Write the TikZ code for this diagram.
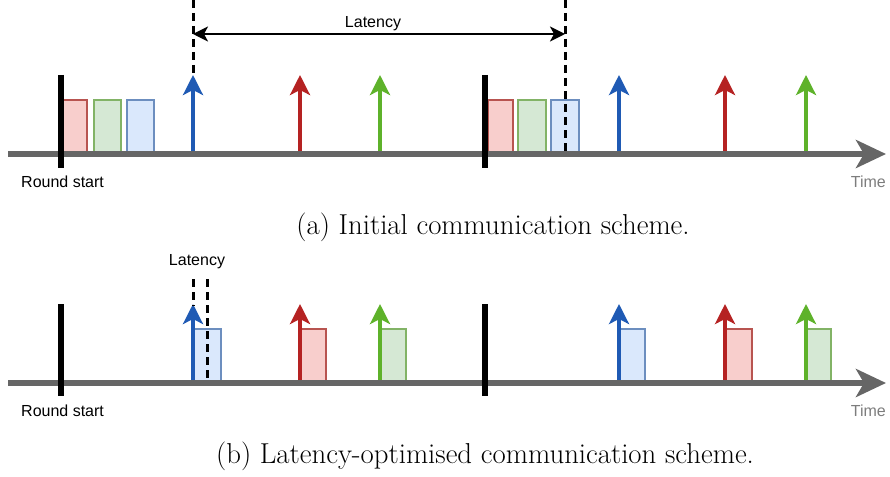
\documentclass[tikz,border=0pt]{standalone}
\usepackage{fontspec}
\newfontfamily\drawsans{Liberation Sans}
\usetikzlibrary{arrows.meta}
\definecolor{axisgray}{HTML}{666666}
\definecolor{rfill}{HTML}{F8CECC}\definecolor{rdraw}{HTML}{B85450}
\definecolor{gfill}{HTML}{D5E8D4}\definecolor{gdraw}{HTML}{82B366}
\definecolor{bfill}{HTML}{DAE8FC}\definecolor{bdraw}{HTML}{6C8EBF}
\definecolor{barrow}{HTML}{1F5AB4}
\definecolor{rarrow}{HTML}{B52222}
\definecolor{garrow}{HTML}{5EB22A}
\tikzset{
  axisline/.style={draw=axisgray, line width=6pt, -{Stealth[length=30pt,width=28pt,inset=8pt]}},
  roundbar/.style={draw=black, line width=6pt},
  msgarrow/.style={line width=3.6pt, -{Stealth[length=20pt,width=20pt,inset=5pt]}},
  slotbox/.style={line width=2.5pt},
  redbox/.style={slotbox, draw=rdraw, fill=rfill},
  greenbox/.style={slotbox, draw=gdraw, fill=gfill},
  bluebox/.style={slotbox, draw=bdraw, fill=bfill},
  dashline/.style={draw=black, line width=3pt, dash pattern=on 8pt off 5pt},
  latarrow/.style={draw=black, line width=2.4pt, {Stealth[length=15pt,width=15pt,inset=4pt]}-{Stealth[length=15pt,width=15pt,inset=4pt]}},
  lbl/.style={font=\drawsans\fontsize{16}{19}\selectfont, inner sep=0pt},
  timelbl/.style={lbl, text=axisgray!85},
  caption/.style={font=\fontsize{28.8}{34}\selectfont, inner sep=0pt}
}
\begin{document}
\begin{tikzpicture}[x=1pt,y=-1pt]
\useasboundingbox (0,0) rectangle (890,476);
% ================= (a) =================
\draw[redbox]   (63,100) rectangle (87,154);
\draw[greenbox] (94,100) rectangle (121,154);
\draw[bluebox]  (127,100) rectangle (154,154);
\draw[redbox]   (488,100) rectangle (513,154);
\draw[greenbox] (518,100) rectangle (546,154);
\draw[bluebox]  (551,100) rectangle (579,154);
\coordinate (a0) at (8,154);
\coordinate (a1) at (886,154);
\draw[axisline] (a0) -- (a1);
\draw[roundbar] (61,75) -- (61,168);
\draw[roundbar] (485,75) -- (485,168);
\foreach \x/\c in {193/barrow,300/rarrow,380/garrow,619/barrow,725/rarrow,806/garrow}
  \draw[msgarrow, draw=\c, fill=\c] (\x,151) -- (\x,75);
\draw[dashline] (193,0) -- (193,75);
\draw[dashline] (565,0) -- (565,154);
\coordinate (la) at (193,34);
\coordinate (lb) at (565,34);
\draw[latarrow] (la) -- (lb);
\node[lbl] (latA) at (373,24) {Latency};
\node[lbl, anchor=west] (rsA) at (21,182) {Round start};
\node[timelbl, anchor=east] (tA) at (886,182) {Time};
\node[caption] (capA) at (493,227) {(a) Initial communication scheme.};
% ================= (b) =================
\draw[bluebox]  (193,329) rectangle (221,383);
\draw[redbox]   (300,329) rectangle (326,383);
\draw[greenbox] (380,329) rectangle (406,383);
\draw[bluebox]  (620,329) rectangle (645,383);
\draw[redbox]   (725,329) rectangle (752,383);
\draw[greenbox] (806,329) rectangle (831,383);
\coordinate (b0) at (8,383);
\coordinate (b1) at (886,383);
\draw[axisline] (b0) -- (b1);
\draw[roundbar] (61,304) -- (61,396);
\draw[roundbar] (485,304) -- (485,396);
\foreach \x/\c in {193/barrow,300/rarrow,380/garrow,619/barrow,725/rarrow,806/garrow}
  \draw[msgarrow, draw=\c, fill=\c] (\x,380) -- (\x,304);
\draw[dashline] (193,279) -- (193,306);
\draw[dashline] (207,279) -- (207,381);
\node[lbl] (latB) at (197,262) {Latency};
\node[lbl, anchor=west] (rsB) at (21,411) {Round start};
\node[timelbl, anchor=east] (tB) at (886,411) {Time};
\node[caption] (capB) at (485,456) {(b) Latency-optimised communication scheme.};
\end{tikzpicture}
\end{document}
